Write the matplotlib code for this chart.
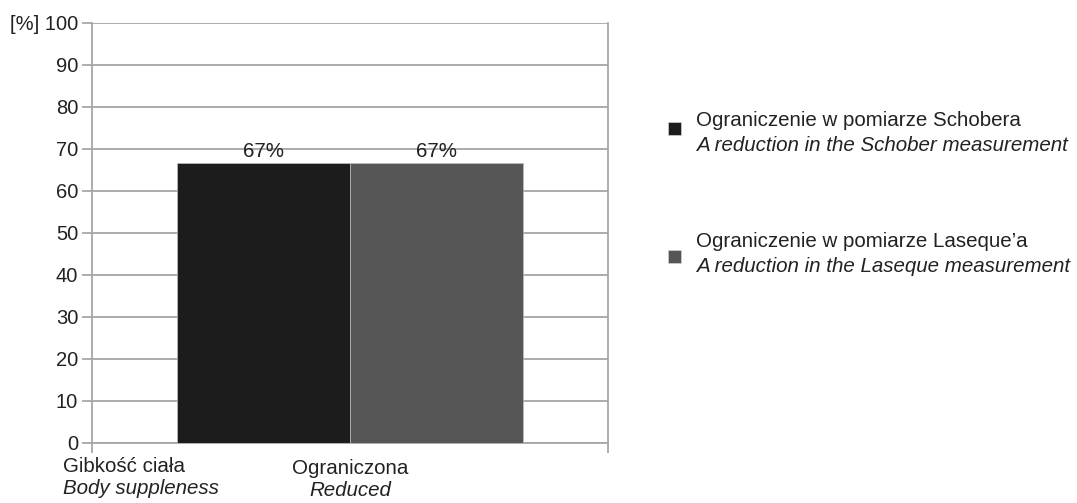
import matplotlib.pyplot as plt
from matplotlib.patches import Rectangle
from matplotlib.ticker import FuncFormatter

plt.rcParams['font.family'] = ['Liberation Sans', 'DejaVu Sans']

category_pl = 'Ograniczona'
category_en = 'Reduced'
axis_title_pl = 'Gibkość ciała'
axis_title_en = 'Body suppleness'
series_pl = ['Ograniczenie w pomiarze Schobera', 'Ograniczenie w pomiarze Laseque\u2019a']
series_en = ['A reduction in the Schober measurement', 'A reduction in the Laseque measurement']
values = [66.7, 66.7]
labels = ['67%', '67%']
colors = ['#1c1c1c', '#565656']

grid_c = '#a6a6a6'
txt_c = '#222222'
fs = 14.8

fig = plt.figure(figsize=(10.77, 5.03), dpi=100)
ax = fig.add_axes([92 / 1077, 1 - 443 / 503, 516 / 1077, 420 / 503])

width = 0.335
offsets = [-width / 2, width / 2]
for off, v, c, lab in zip(offsets, values, colors, labels):
    ax.bar(off, v, width=width, color=c, edgecolor='#bdbdbd', linewidth=0.5, zorder=3)
    ax.text(off, v + 0.4, lab, ha='center', va='bottom', fontsize=fs, color=txt_c, zorder=4)

ax.set_xlim(-0.5, 0.5)
ax.set_ylim(0, 100)
ax.set_yticks(range(0, 101, 10))
ax.yaxis.set_major_formatter(FuncFormatter(lambda v, p: '[%] 100' if v == 100 else f'{int(v)}'))
ax.grid(axis='y', color=grid_c, linewidth=1.3, zorder=0)
ax.set_xticks([-0.5, 0.5])
ax.set_xticklabels(['', ''])
ax.tick_params(axis='both', color=grid_c, width=1.3, length=7, labelsize=14.5, labelcolor=txt_c, pad=3)
for s in ax.spines.values():
    s.set_color(grid_c)
    s.set_linewidth(1.3)
ax.spines['top'].set_visible(False)

tr = ax.get_xaxis_transform()
ax.text(0, -0.038, category_pl, transform=tr, ha='center', va='top', fontsize=fs, color=txt_c)
ax.text(0, -0.09, category_en, transform=tr, ha='center', va='top', fontsize=fs, style='italic', color=txt_c)
fig.text(63 / 1077, 1 - 467 / 503, axis_title_pl, ha='left', va='center', fontsize=fs, color=txt_c)
fig.text(63 / 1077, 1 - 488 / 503, axis_title_en, ha='left', va='center', fontsize=fs, style='italic', color=txt_c)

# legend
leg_y = [121, 242]
sq_y = [129, 256]
for y, sy, pl, en, c in zip(leg_y, sq_y, series_pl, series_en, colors):
    fig.text(696 / 1077, 1 - y / 503, pl, ha='left', va='center', fontsize=fs, color=txt_c)
    fig.text(696 / 1077, 1 - (y + 25) / 503, en, ha='left', va='center', fontsize=fs, style='italic', color=txt_c)
    fig.patches.append(Rectangle((668 / 1077, 1 - (sy + 6.5) / 503), 13 / 1077, 13 / 503,
                                 transform=fig.transFigure, facecolor=c, edgecolor='#d0d0d0', linewidth=0.5))

fig.savefig('out.png', dpi=100)
